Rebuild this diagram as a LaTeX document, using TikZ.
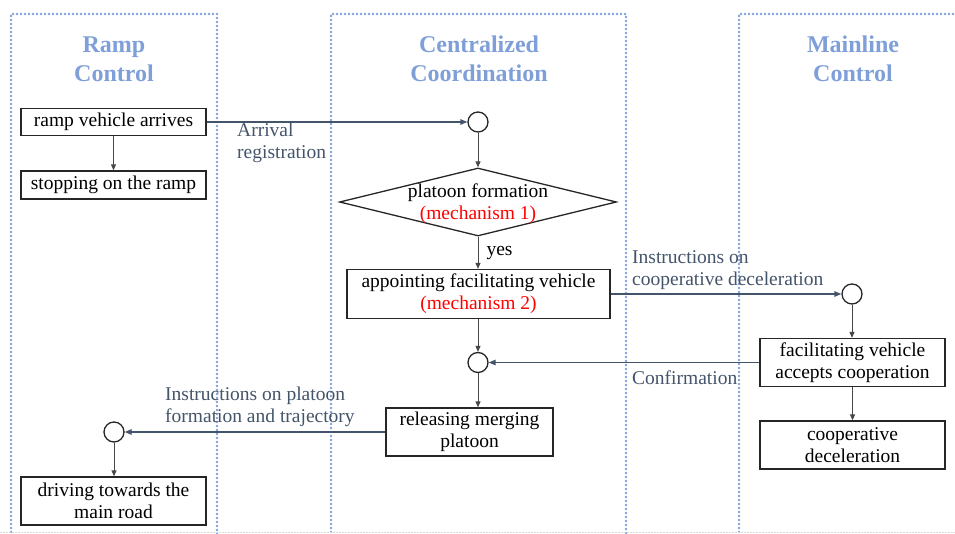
\documentclass[tikz,border=0pt]{standalone}
\usepackage{fontspec}
\setmainfont{Liberation Serif}
\usetikzlibrary{arrows.meta,shapes.geometric}
\definecolor{lanec}{HTML}{7FA0DC}
\definecolor{titlec}{HTML}{7F9FD9}
\definecolor{slate}{HTML}{44546A}
\definecolor{boxc}{HTML}{262626}
\tikzset{
  lane/.style={draw=lanec,line width=2.6pt,line cap=round,dash pattern=on 0pt off 4pt},
  ttl/.style={text=titlec,font=\fontsize{24}{29}\selectfont\bfseries,align=center},
  stepbox/.style={draw=boxc,line width=1.3pt,fill=white,align=center,inner sep=0pt,font=\fontsize{19.5}{22}\selectfont},
  junc/.style={circle,draw=boxc,line width=1.3pt,fill=white,minimum size=20pt,inner sep=0pt},
  flow/.style={draw=boxc!85,line width=1pt,-{Triangle[length=6pt,width=5pt]}},
  msg/.style={draw=slate,line width=1.3pt,-{Triangle[length=7pt,width=5.5pt]}},
  msglbl/.style={text=slate,font=\fontsize{19.5}{22}\selectfont,align=left,inner sep=0pt},
  mech/.style={text=red}
}
\begin{document}
\begin{tikzpicture}[x=1pt,y=-1pt]
\useasboundingbox (0,0) rectangle (955,534);
% lanes
\begin{scope}
\clip (0,0) rectangle (955,534);
\draw[lane] (11,560) -- (11,14) -- (217,14) -- (217,560);
\draw[lane] (331,560) -- (331,14) -- (626,14) -- (626,560);
\draw[lane] (739,560) -- (739,14) -- (980,14);
\draw[draw=black!15,line width=1pt,dash pattern=on 1.5pt off 1.5pt] (0,532.5) -- (955,532.5);
\end{scope}
% titles
\node[ttl] (t1) at (114,59) {Ramp\\Control};
\node[ttl] (t2) at (479,59) {Centralized\\Coordination};
\node[ttl] (t3) at (853,59) {Mainline\\Control};
% ramp lane
\node[stepbox,minimum width=185pt,minimum height=27pt] (r1) at (113.5,122) {\strut ramp vehicle arrives};
\node[stepbox,minimum width=185pt,minimum height=28pt] (r2) at (113.5,185) {\strut stopping on the ramp};
\node[junc] (c4) at (114,432) {};
\node[stepbox,minimum width=185pt,minimum height=48pt] (r3) at (113.5,501) {driving towards the\\main road};
% central lane
\node[junc] (c1) at (478,122) {};
\node[diamond,draw=boxc,line width=1.3pt,fill=white,minimum width=277pt,minimum height=68pt,inner sep=0pt] (dia) at (478,202) {};
\node[align=center,font=\fontsize{19.5}{22}\selectfont,inner sep=0pt] (diat) at (478,204) {platoon formation\\\textcolor{red}{(mechanism 1)}};
\node[stepbox,minimum width=263pt,minimum height=49pt] (b3) at (478.5,294) {appointing facilitating vehicle\\\textcolor{red}{(mechanism 2)}};
\node[junc] (c2) at (478,362.5) {};
\node[stepbox,minimum width=167pt,minimum height=48pt] (b6) at (469.5,432) {releasing merging\\platoon};
% mainline lane
\node[junc] (c3) at (852,294) {};
\node[stepbox,minimum width=185pt,minimum height=48pt] (m1) at (852.5,362.5) {facilitating vehicle\\accepts cooperation};
\node[stepbox,minimum width=185pt,minimum height=48pt] (m2) at (852.5,445) {cooperative\\deceleration};
% flow arrows
\draw[flow] (r1) -- (r2);
\draw[flow] (c1) -- (dia.north);
\draw[flow] (dia.south) -- node[right,font=\fontsize{19.5}{22}\selectfont,inner sep=0pt,xshift=8pt] (yes) {yes} (b3.north -| dia.south);
\draw[flow] (b3.south -| c2) -- (c2);
\draw[flow] (c2) -- (b6.north -| c2);
\draw[flow] (c3) -- (m1.north -| c3);
\draw[flow] (m1) -- (m2);
\draw[flow] (c4) -- (r3.north -| c4);
% message arrows
\draw[msg] (r1.east) -- (c1.west);
\draw[msg] (b3.east) -- (c3.west);
\draw[msg] (m1.west) -- (c2.east);
\draw[msg] (b6.west) -- (c4.east);
% message labels
\node[msglbl,anchor=north west] (l1) at (237,123) {Arrival\\registration};
\node[msglbl,anchor=north west] (l2) at (632,250) {Instructions on\\cooperative deceleration};
\node[msglbl,anchor=north west] (l3) at (632,371) {Confirmation};
\node[msglbl,anchor=north west] (l4) at (165,387) {Instructions on platoon\\formation and trajectory};
\end{tikzpicture}
\end{document}
